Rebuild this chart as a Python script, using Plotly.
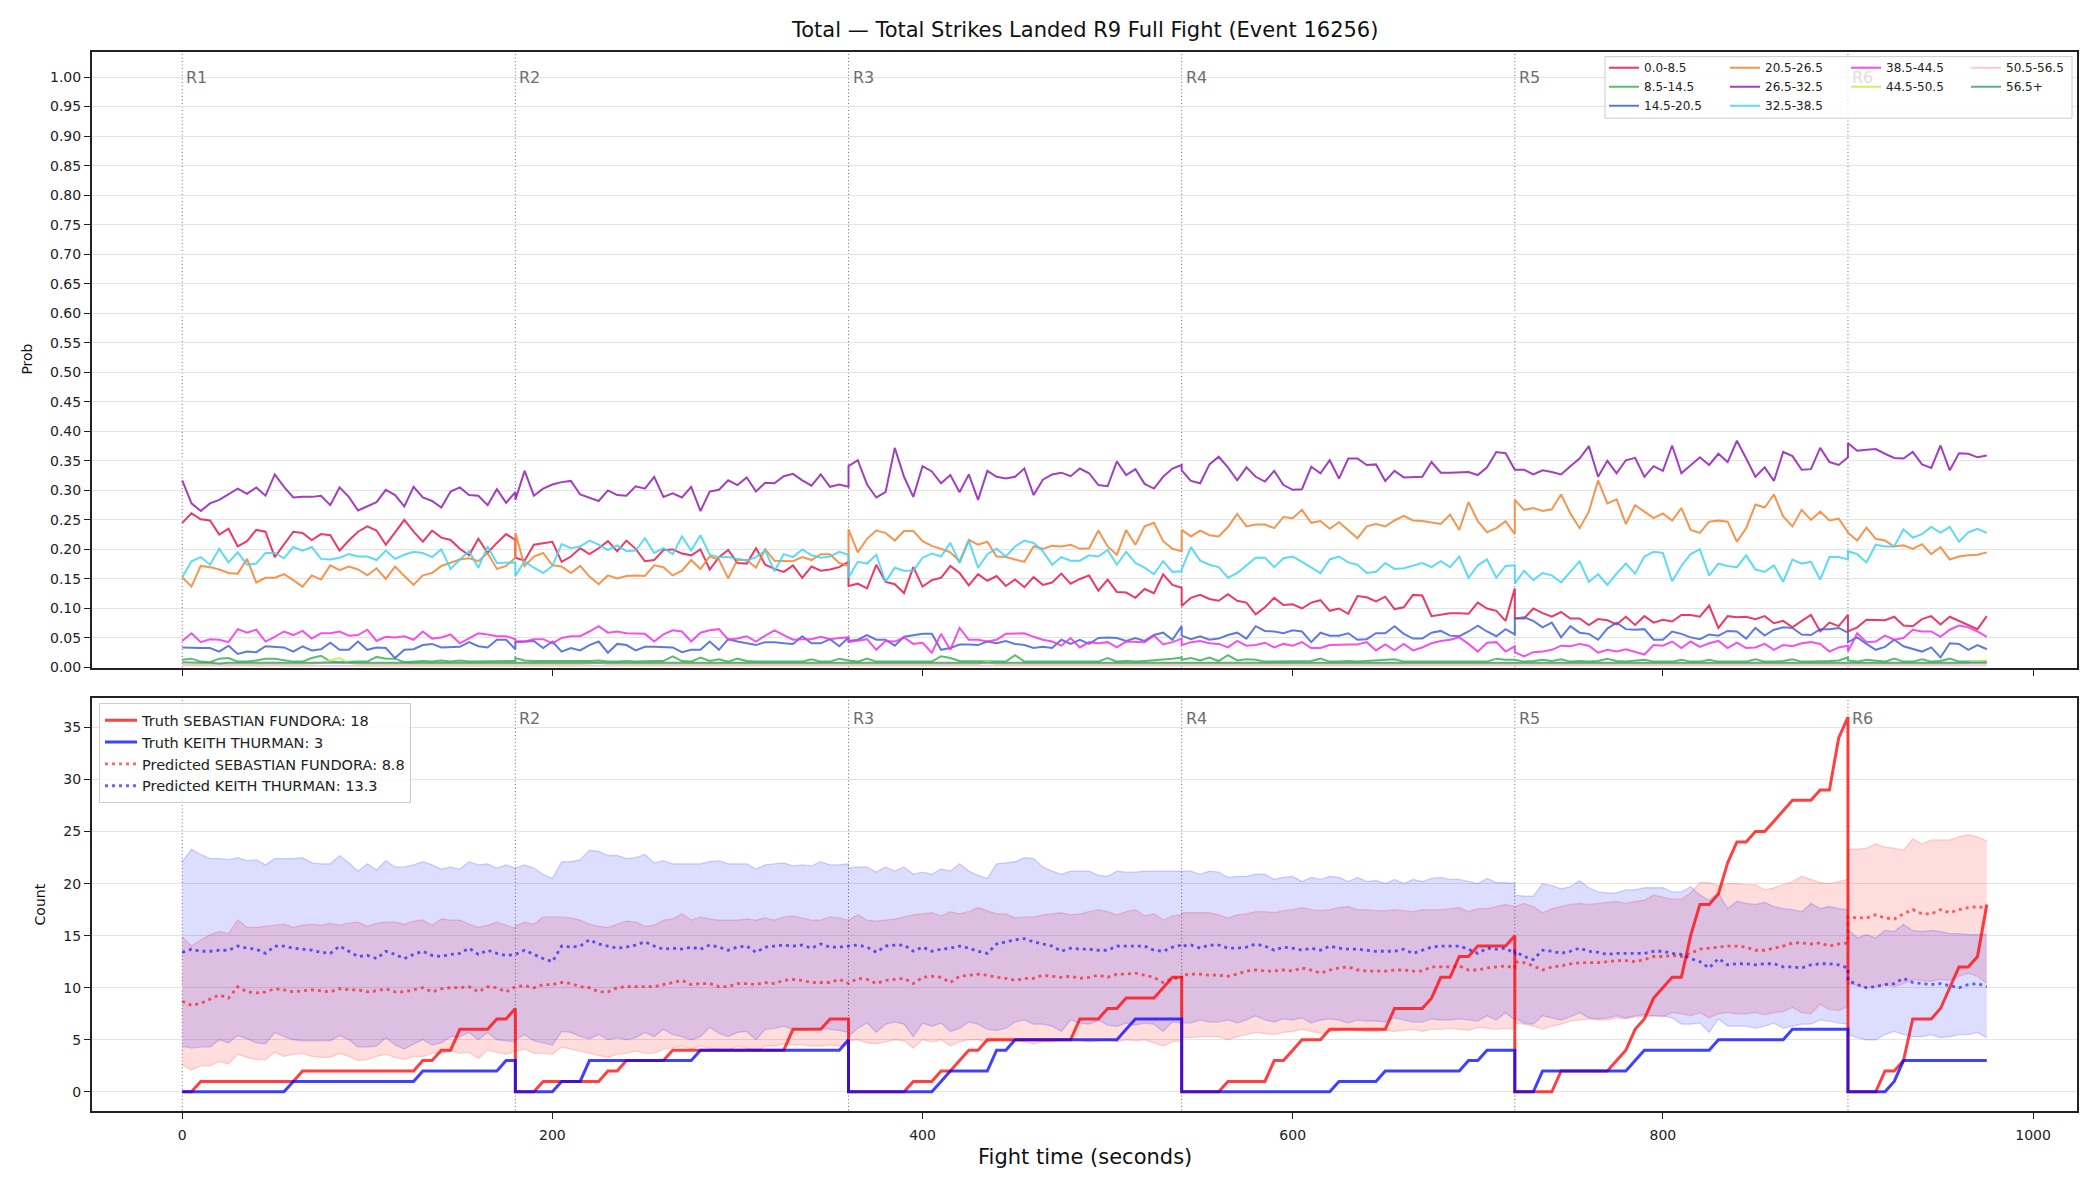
import plotly.graph_objects as go

W, H = 2100, 1200
ROUND_STARTS = [0, 180, 360, 540, 720, 900]
ROUND_POINTS = [37, 37, 37, 37, 37, 16]
STEP = 5
ROUND_LABELS = ["R1", "R2", "R3", "R4", "R5", "R6"]
X_TICKS = [0, 200, 400, 600, 800, 1000]

BIN_LABELS = ["0.0-8.5", "8.5-14.5", "14.5-20.5", "20.5-26.5", "26.5-32.5",
              "32.5-38.5", "38.5-44.5", "44.5-50.5", "50.5-56.5", "56.5+"]
BIN_COLORS = ["#e6194b", "#3cb44b", "#4363d8", "#f58231", "#911eb4",
              "#42d4f4", "#f032e6", "#bfef45", "#fabed4", "#469990"]

# ---- top panel: probability per bin, one list per round ----
P_0_8 = [
    [0.245,0.261,0.251,0.249,0.225,0.235,0.205,0.214,0.233,0.230,0.187,0.208,0.230,0.228,0.216,0.226,0.224,0.198,0.215,0.230,0.239,0.232,0.208,0.229,0.250,0.230,0.213,0.232,0.220,0.216,0.201,0.190,0.218,0.194,0.211,0.226,0.216],
    [0.186,0.181,0.208,0.211,0.213,0.179,0.188,0.202,0.192,0.202,0.214,0.197,0.215,0.201,0.180,0.182,0.199,0.200,0.193,0.190,0.200,0.166,0.187,0.199,0.177,0.176,0.202,0.174,0.167,0.162,0.173,0.152,0.171,0.164,0.166,0.170,0.179],
    [0.138,0.142,0.134,0.174,0.145,0.141,0.126,0.170,0.137,0.148,0.152,0.172,0.160,0.139,0.158,0.147,0.155,0.138,0.149,0.136,0.153,0.140,0.144,0.159,0.142,0.150,0.156,0.130,0.149,0.128,0.127,0.118,0.133,0.126,0.158,0.140,0.135],
    [0.104,0.118,0.123,0.116,0.113,0.124,0.113,0.110,0.090,0.102,0.118,0.106,0.107,0.100,0.110,0.114,0.096,0.100,0.091,0.121,0.119,0.112,0.120,0.099,0.102,0.123,0.122,0.087,0.090,0.092,0.092,0.091,0.110,0.100,0.096,0.079,0.134],
    [0.083,0.083,0.100,0.092,0.086,0.094,0.083,0.083,0.072,0.082,0.080,0.073,0.086,0.072,0.087,0.076,0.081,0.078,0.089,0.089,0.086,0.105,0.067,0.087,0.085,0.086,0.082,0.087,0.075,0.079,0.068,0.079,0.089,0.061,0.076,0.070,0.089],
    [0.061,0.068,0.081,0.081,0.080,0.086,0.071,0.070,0.082,0.087,0.073,0.086,0.079,0.073,0.065,0.087],
]
P_8_14 = [
    [0.013,0.015,0.010,0.009,0.015,0.016,0.010,0.010,0.012,0.015,0.015,0.012,0.010,0.010,0.016,0.020,0.010,0.009,0.010,0.010,0.010,0.018,0.015,0.015,0.009,0.010,0.011,0.010,0.012,0.010,0.012,0.010,0.010,0.010,0.010,0.011,0.011],
    [0.016,0.012,0.011,0.011,0.011,0.011,0.010,0.010,0.011,0.012,0.010,0.010,0.011,0.010,0.011,0.011,0.011,0.019,0.011,0.010,0.017,0.011,0.014,0.010,0.015,0.011,0.010,0.010,0.011,0.010,0.011,0.010,0.014,0.010,0.010,0.015,0.012],
    [0.012,0.010,0.015,0.010,0.010,0.010,0.011,0.010,0.010,0.010,0.019,0.016,0.011,0.011,0.010,0.010,0.010,0.010,0.021,0.010,0.010,0.010,0.010,0.011,0.010,0.010,0.011,0.010,0.016,0.010,0.011,0.010,0.011,0.012,0.014,0.015,0.017],
    [0.013,0.016,0.012,0.017,0.011,0.021,0.012,0.014,0.013,0.010,0.010,0.010,0.010,0.010,0.011,0.015,0.010,0.010,0.011,0.010,0.011,0.012,0.012,0.014,0.010,0.010,0.010,0.011,0.010,0.010,0.010,0.010,0.010,0.010,0.015,0.013,0.013],
    [0.013,0.010,0.011,0.013,0.011,0.014,0.010,0.011,0.010,0.011,0.015,0.011,0.010,0.011,0.013,0.010,0.010,0.010,0.013,0.010,0.010,0.013,0.010,0.010,0.011,0.010,0.014,0.010,0.010,0.011,0.014,0.010,0.010,0.010,0.011,0.012,0.017],
    [0.012,0.010,0.013,0.011,0.010,0.015,0.010,0.010,0.014,0.010,0.011,0.015,0.010,0.010,0.010,0.010],
]
P_14_20 = [
    [0.034,0.033,0.033,0.033,0.027,0.037,0.023,0.027,0.026,0.036,0.035,0.034,0.027,0.036,0.029,0.031,0.042,0.030,0.030,0.044,0.030,0.034,0.033,0.016,0.030,0.031,0.038,0.040,0.034,0.035,0.035,0.043,0.036,0.034,0.047,0.047,0.031],
    [0.043,0.044,0.045,0.033,0.044,0.027,0.033,0.029,0.038,0.044,0.025,0.040,0.038,0.029,0.035,0.035,0.035,0.034,0.026,0.030,0.030,0.044,0.030,0.048,0.044,0.041,0.038,0.043,0.043,0.041,0.040,0.053,0.041,0.041,0.048,0.036,0.051],
    [0.045,0.047,0.055,0.047,0.047,0.037,0.052,0.055,0.057,0.057,0.030,0.033,0.039,0.039,0.038,0.044,0.041,0.045,0.040,0.038,0.033,0.035,0.033,0.047,0.040,0.047,0.040,0.050,0.051,0.050,0.045,0.050,0.045,0.055,0.059,0.047,0.070],
    [0.054,0.048,0.053,0.047,0.049,0.055,0.059,0.049,0.070,0.062,0.061,0.058,0.063,0.061,0.043,0.059,0.054,0.054,0.058,0.047,0.048,0.058,0.058,0.070,0.057,0.049,0.049,0.059,0.062,0.054,0.053,0.061,0.071,0.061,0.053,0.065,0.056],
    [0.083,0.085,0.079,0.068,0.076,0.051,0.070,0.059,0.057,0.047,0.066,0.076,0.065,0.064,0.065,0.047,0.047,0.061,0.057,0.051,0.048,0.056,0.054,0.062,0.061,0.049,0.067,0.054,0.064,0.068,0.067,0.056,0.055,0.065,0.065,0.067,0.059],
    [0.043,0.051,0.040,0.030,0.035,0.047,0.036,0.031,0.027,0.034,0.017,0.041,0.040,0.030,0.038,0.031],
]
P_20_26 = [
    [0.153,0.137,0.172,0.170,0.166,0.160,0.159,0.184,0.144,0.152,0.152,0.158,0.148,0.137,0.156,0.149,0.173,0.165,0.171,0.166,0.156,0.168,0.150,0.171,0.155,0.140,0.156,0.160,0.172,0.177,0.183,0.185,0.180,0.194,0.167,0.172,0.186],
    [0.228,0.172,0.188,0.194,0.173,0.171,0.160,0.172,0.154,0.141,0.156,0.151,0.155,0.156,0.155,0.173,0.170,0.156,0.164,0.182,0.167,0.188,0.183,0.151,0.183,0.182,0.169,0.200,0.181,0.180,0.180,0.187,0.182,0.192,0.192,0.177,0.172],
    [0.234,0.195,0.218,0.232,0.228,0.215,0.231,0.231,0.214,0.206,0.201,0.195,0.180,0.216,0.208,0.213,0.188,0.187,0.183,0.179,0.205,0.201,0.206,0.205,0.208,0.201,0.202,0.232,0.205,0.191,0.233,0.208,0.239,0.245,0.214,0.201,0.197],
    [0.233,0.222,0.232,0.224,0.222,0.238,0.260,0.239,0.242,0.242,0.236,0.255,0.253,0.267,0.245,0.248,0.235,0.246,0.232,0.219,0.239,0.243,0.239,0.249,0.257,0.249,0.248,0.245,0.243,0.259,0.233,0.280,0.248,0.229,0.236,0.248,0.226],
    [0.284,0.267,0.270,0.265,0.268,0.293,0.261,0.236,0.264,0.317,0.278,0.285,0.243,0.275,0.264,0.253,0.261,0.249,0.270,0.233,0.228,0.247,0.249,0.247,0.213,0.236,0.276,0.271,0.293,0.256,0.239,0.267,0.250,0.264,0.249,0.252,0.229],
    [0.228,0.215,0.237,0.218,0.215,0.205,0.207,0.201,0.209,0.192,0.204,0.183,0.188,0.190,0.191,0.195],
]
P_26_32 = [
    [0.317,0.278,0.265,0.278,0.284,0.294,0.303,0.294,0.305,0.291,0.327,0.306,0.288,0.289,0.289,0.291,0.275,0.305,0.289,0.266,0.273,0.280,0.301,0.292,0.273,0.306,0.288,0.282,0.271,0.298,0.305,0.292,0.291,0.275,0.302,0.279,0.297],
    [0.284,0.333,0.291,0.303,0.310,0.314,0.316,0.293,0.288,0.282,0.300,0.292,0.291,0.307,0.303,0.323,0.289,0.295,0.288,0.306,0.265,0.298,0.301,0.317,0.309,0.322,0.298,0.313,0.312,0.324,0.328,0.317,0.308,0.327,0.306,0.310,0.306],
    [0.341,0.351,0.310,0.288,0.297,0.372,0.323,0.289,0.341,0.332,0.312,0.326,0.297,0.327,0.284,0.333,0.323,0.320,0.323,0.337,0.292,0.318,0.327,0.330,0.324,0.337,0.329,0.309,0.307,0.349,0.326,0.336,0.311,0.303,0.323,0.337,0.343],
    [0.334,0.316,0.312,0.344,0.357,0.339,0.317,0.339,0.323,0.315,0.333,0.309,0.301,0.302,0.340,0.329,0.351,0.320,0.354,0.354,0.343,0.344,0.316,0.333,0.322,0.323,0.323,0.348,0.330,0.330,0.330,0.331,0.326,0.339,0.365,0.363,0.335],
    [0.335,0.335,0.327,0.334,0.331,0.327,0.341,0.354,0.375,0.323,0.350,0.329,0.351,0.355,0.323,0.341,0.333,0.376,0.329,0.343,0.356,0.343,0.362,0.348,0.384,0.354,0.323,0.339,0.316,0.365,0.358,0.335,0.336,0.372,0.348,0.343,0.356],
    [0.380,0.367,0.369,0.370,0.362,0.355,0.354,0.365,0.344,0.338,0.376,0.334,0.363,0.362,0.356,0.359],
]
P_32_38 = [
    [0.153,0.180,0.187,0.174,0.201,0.178,0.195,0.174,0.176,0.194,0.194,0.185,0.204,0.198,0.204,0.184,0.183,0.186,0.192,0.188,0.188,0.182,0.198,0.184,0.191,0.196,0.194,0.187,0.200,0.167,0.183,0.197,0.169,0.205,0.177,0.178,0.178],
    [0.155,0.180,0.169,0.160,0.172,0.209,0.202,0.205,0.215,0.208,0.199,0.207,0.197,0.198,0.219,0.194,0.202,0.192,0.222,0.198,0.224,0.191,0.187,0.187,0.184,0.181,0.187,0.198,0.163,0.192,0.187,0.200,0.190,0.186,0.188,0.196,0.191],
    [0.152,0.179,0.176,0.191,0.145,0.169,0.164,0.164,0.186,0.193,0.188,0.211,0.177,0.215,0.169,0.192,0.201,0.188,0.205,0.215,0.211,0.197,0.174,0.187,0.181,0.181,0.190,0.188,0.199,0.174,0.196,0.177,0.169,0.158,0.180,0.162,0.163],
    [0.166,0.204,0.181,0.174,0.170,0.152,0.160,0.173,0.186,0.186,0.170,0.185,0.188,0.179,0.170,0.160,0.183,0.188,0.178,0.174,0.160,0.162,0.177,0.167,0.168,0.173,0.177,0.170,0.180,0.170,0.188,0.152,0.173,0.183,0.152,0.172,0.173],
    [0.142,0.164,0.148,0.160,0.156,0.144,0.162,0.180,0.145,0.158,0.140,0.159,0.176,0.159,0.188,0.196,0.194,0.146,0.172,0.192,0.200,0.156,0.176,0.172,0.170,0.190,0.166,0.162,0.173,0.145,0.183,0.176,0.179,0.149,0.187,0.187,0.183],
    [0.197,0.192,0.178,0.208,0.205,0.205,0.234,0.220,0.226,0.238,0.228,0.238,0.213,0.229,0.235,0.228],
]
P_38_44 = [
    [0.045,0.058,0.043,0.048,0.047,0.043,0.065,0.059,0.064,0.044,0.052,0.061,0.055,0.062,0.049,0.058,0.058,0.061,0.054,0.055,0.064,0.045,0.052,0.051,0.053,0.047,0.061,0.049,0.051,0.056,0.041,0.050,0.058,0.056,0.053,0.053,0.048],
    [0.045,0.044,0.048,0.048,0.041,0.050,0.053,0.053,0.061,0.070,0.059,0.061,0.058,0.057,0.057,0.044,0.056,0.063,0.061,0.044,0.059,0.063,0.065,0.047,0.049,0.053,0.044,0.054,0.063,0.055,0.047,0.048,0.048,0.052,0.048,0.050,0.051],
    [0.043,0.045,0.048,0.030,0.045,0.044,0.051,0.040,0.042,0.025,0.057,0.030,0.067,0.047,0.047,0.044,0.047,0.057,0.058,0.058,0.052,0.047,0.044,0.037,0.050,0.034,0.043,0.041,0.043,0.034,0.044,0.043,0.043,0.054,0.039,0.043,0.049],
    [0.038,0.043,0.045,0.041,0.040,0.034,0.045,0.037,0.038,0.042,0.034,0.040,0.037,0.043,0.033,0.033,0.038,0.039,0.039,0.039,0.043,0.029,0.039,0.029,0.040,0.029,0.034,0.041,0.045,0.047,0.051,0.040,0.027,0.042,0.043,0.027,0.036],
    [0.026,0.019,0.026,0.027,0.030,0.037,0.036,0.040,0.037,0.025,0.030,0.027,0.031,0.027,0.022,0.038,0.037,0.044,0.033,0.044,0.035,0.041,0.045,0.033,0.042,0.033,0.034,0.040,0.030,0.038,0.036,0.041,0.043,0.040,0.027,0.034,0.037],
    [0.027,0.058,0.043,0.044,0.054,0.047,0.050,0.064,0.061,0.061,0.052,0.064,0.071,0.068,0.061,0.052],
]
P_44_50 = [
    [0.005,0.005,0.006,0.005,0.006,0.006,0.005,0.006,0.006,0.005,0.006,0.006,0.006,0.006,0.007,0.008,0.012,0.016,0.008,0.006,0.006,0.006,0.005,0.006,0.006,0.006,0.005,0.006,0.006,0.006,0.005,0.006,0.006,0.006,0.006,0.005,0.006],
    [0.006,0.006,0.005,0.006,0.006,0.006,0.006,0.006,0.007,0.008,0.006,0.006,0.005,0.006,0.006,0.006,0.006,0.005,0.006,0.006,0.006,0.006,0.006,0.005,0.006,0.006,0.006,0.006,0.005,0.006,0.006,0.006,0.006,0.005,0.006,0.006,0.006],
    [0.006,0.006,0.005,0.006,0.006,0.006,0.006,0.005,0.006,0.006,0.006,0.006,0.006,0.006,0.006,0.010,0.006,0.006,0.005,0.006,0.006,0.006,0.006,0.006,0.005,0.006,0.006,0.006,0.006,0.006,0.005,0.006,0.006,0.006,0.006,0.006,0.006],
    [0.006,0.006,0.006,0.005,0.006,0.006,0.006,0.006,0.006,0.005,0.006,0.006,0.006,0.006,0.006,0.006,0.005,0.006,0.006,0.006,0.006,0.006,0.006,0.005,0.006,0.006,0.006,0.006,0.006,0.006,0.005,0.006,0.006,0.006,0.006,0.006,0.006],
    [0.006,0.005,0.006,0.006,0.006,0.006,0.005,0.006,0.006,0.006,0.006,0.006,0.005,0.006,0.006,0.006,0.006,0.006,0.006,0.005,0.006,0.006,0.006,0.006,0.006,0.005,0.006,0.006,0.006,0.006,0.006,0.006,0.005,0.006,0.006,0.006,0.006],
    [0.006,0.006,0.006,0.006,0.006,0.005,0.006,0.006,0.006,0.006,0.006,0.006,0.007,0.008,0.011,0.012],
]
P_50_56 = [
    [0.004,0.003,0.003,0.004,0.003,0.003,0.004,0.003,0.003,0.003,0.004,0.003,0.003,0.003,0.004,0.003,0.003,0.003,0.003,0.004,0.003,0.003,0.003,0.003,0.004,0.003,0.003,0.003,0.003,0.003,0.004,0.003,0.003,0.003,0.003,0.003,0.003],
    [0.003,0.003,0.004,0.003,0.003,0.003,0.003,0.004,0.003,0.003,0.003,0.003,0.004,0.003,0.003,0.003,0.003,0.003,0.004,0.003,0.003,0.003,0.003,0.004,0.003,0.003,0.003,0.003,0.003,0.004,0.003,0.003,0.003,0.003,0.004,0.003,0.003],
    [0.003,0.004,0.003,0.003,0.003,0.003,0.004,0.003,0.003,0.003,0.003,0.004,0.003,0.003,0.003,0.003,0.003,0.004,0.003,0.003,0.003,0.003,0.004,0.003,0.003,0.003,0.003,0.003,0.004,0.003,0.003,0.003,0.003,0.004,0.003,0.003,0.003],
    [0.003,0.003,0.003,0.004,0.003,0.003,0.003,0.003,0.004,0.003,0.003,0.003,0.003,0.003,0.004,0.003,0.003,0.003,0.003,0.004,0.003,0.003,0.003,0.003,0.003,0.004,0.003,0.003,0.003,0.003,0.004,0.003,0.003,0.003,0.003,0.003,0.004],
    [0.003,0.003,0.004,0.003,0.003,0.003,0.003,0.003,0.004,0.003,0.003,0.003,0.004,0.003,0.003,0.003,0.003,0.004,0.003,0.003,0.003,0.003,0.003,0.004,0.003,0.003,0.003,0.004,0.003,0.003,0.003,0.003,0.003,0.004,0.003,0.003,0.003],
    [0.003,0.004,0.003,0.003,0.003,0.003,0.004,0.003,0.003,0.003,0.004,0.003,0.003,0.003,0.003,0.004],
]
P_56_UP = [
    [0.009,0.008,0.008,0.008,0.007,0.008,0.008,0.008,0.008,0.007,0.008,0.008,0.008,0.008,0.008,0.008,0.007,0.008,0.008,0.008,0.008,0.008,0.008,0.007,0.008,0.008,0.008,0.008,0.008,0.007,0.008,0.008,0.008,0.008,0.008,0.008,0.008],
    [0.008,0.008,0.008,0.007,0.008,0.008,0.008,0.008,0.008,0.008,0.007,0.008,0.008,0.008,0.008,0.008,0.008,0.007,0.008,0.008,0.008,0.008,0.008,0.008,0.007,0.008,0.008,0.008,0.008,0.008,0.008,0.007,0.008,0.008,0.008,0.008,0.008],
    [0.008,0.008,0.007,0.008,0.008,0.008,0.008,0.008,0.007,0.008,0.008,0.008,0.008,0.008,0.008,0.007,0.008,0.008,0.008,0.008,0.008,0.008,0.007,0.008,0.008,0.008,0.008,0.008,0.008,0.007,0.008,0.008,0.008,0.008,0.008,0.008,0.008],
    [0.008,0.008,0.008,0.008,0.007,0.008,0.008,0.008,0.008,0.008,0.008,0.007,0.008,0.008,0.008,0.008,0.008,0.008,0.007,0.008,0.008,0.008,0.008,0.008,0.008,0.007,0.008,0.008,0.008,0.008,0.008,0.008,0.007,0.008,0.008,0.008,0.008],
    [0.008,0.008,0.008,0.008,0.008,0.007,0.008,0.008,0.008,0.008,0.008,0.008,0.007,0.008,0.008,0.008,0.008,0.008,0.008,0.007,0.008,0.008,0.008,0.008,0.008,0.008,0.007,0.008,0.008,0.008,0.008,0.008,0.008,0.007,0.008,0.008,0.008],
    [0.008,0.008,0.008,0.007,0.008,0.008,0.008,0.008,0.008,0.008,0.007,0.008,0.008,0.008,0.008,0.008],
]
PROB_SERIES = [P_0_8, P_8_14, P_14_20, P_20_26, P_26_32, P_32_38, P_38_44, P_44_50, P_50_56, P_56_UP]

# ---- bottom panel: counts per round ----
FIGHTER_A = "SEBASTIAN FUNDORA"
FIGHTER_B = "KEITH THURMAN"
TRUTH_A = [
    [0,0,1,1,1,1,1,1,1,1,1,1,1,2,2,2,2,2,2,2,2,2,2,2,2,2,3,3,4,4,6,6,6,6,7,7,8],
    [0,0,0,1,1,1,1,1,1,1,2,2,3,3,3,3,3,4,4,4,4,4,4,4,4,4,4,4,4,4,6,6,6,6,7,7,7],
    [0,0,0,0,0,0,0,1,1,1,2,2,3,4,4,5,5,5,5,5,5,5,5,5,5,7,7,7,8,8,9,9,9,9,10,11,11],
    [0,0,0,0,0,1,1,1,1,1,3,3,4,5,5,5,6,6,6,6,6,6,6,8,8,8,8,9,11,11,13,13,14,14,14,14,15],
    [0,0,0,0,0,2,2,2,2,2,2,3,4,6,7,9,10,11,11,15,18,18,19,22,24,24,25,25,26,27,28,28,28,29,29,34,36],
    [0,0,0,0,2,2,3,7,7,7,8,10,12,12,13,18],
]
TRUTH_B = [
    [0,0,0,0,0,0,0,0,0,0,0,0,1,1,1,1,1,1,1,1,1,1,1,1,1,1,2,2,2,2,2,2,2,2,2,3,3],
    [0,0,0,0,0,1,1,1,3,3,3,3,3,3,3,3,3,3,3,3,4,4,4,4,4,4,4,4,4,4,4,4,4,4,4,4,5],
    [0,0,0,0,0,0,0,0,0,0,1,2,2,2,2,2,4,4,5,5,5,5,5,5,5,5,5,5,5,5,6,7,7,7,7,7,7],
    [0,0,0,0,0,0,0,0,0,0,0,0,0,0,0,0,0,1,1,1,1,1,2,2,2,2,2,2,2,2,2,3,3,4,4,4,4],
    [0,0,0,2,2,2,2,2,2,2,2,2,2,3,4,4,4,4,4,4,4,4,5,5,5,5,5,5,5,5,6,6,6,6,6,6,6],
    [0,0,0,0,0,1,3,3,3,3,3,3,3,3,3,3],
]
PRED_A = [
    [8.7,8.3,8.5,8.9,9.3,9.0,10.1,9.6,9.5,9.6,9.9,9.8,9.6,9.7,9.8,9.7,9.6,9.9,9.8,9.8,9.6,9.7,9.9,9.6,9.6,9.8,10.0,9.6,9.9,10.0,10.0,10.1,9.6,10.1,10.0,9.6,10.1],
    [10.1,10.2,10.0,10.3,10.3,10.5,10.4,10.1,10.0,9.6,9.6,10.0,10.1,10.1,10.1,10.1,10.3,10.5,10.7,10.3,10.4,10.4,10.1,10.1,10.4,10.4,10.3,10.5,10.4,10.7,10.8,10.7,10.5,10.5,10.5,10.8,10.4],
    [10.4,10.9,10.8,10.4,10.7,10.8,10.9,10.4,11.0,11.1,11.0,10.5,11.1,11.2,11.3,11.2,11.0,10.9,10.7,10.9,10.9,11.2,11.1,11.0,11.1,10.9,11.0,11.2,11.0,11.3,11.3,11.4,11.2,11.0,10.5,10.9,10.9],
    [11.2,11.3,11.3,11.2,11.2,11.1,11.3,11.6,11.7,11.6,11.6,11.7,11.6,11.9,11.7,11.4,11.7,11.9,12.0,11.7,11.6,11.6,11.6,11.7,11.7,11.6,11.6,12.0,12.0,12.0,12.1,11.7,11.7,11.9,12.0,12.1,11.9],
    [12.5,12.4,12.1,11.7,12.0,12.1,12.3,12.4,12.4,12.4,12.5,12.6,12.6,12.5,12.7,13.0,13.0,13.1,13.0,13.3,13.7,13.8,13.9,14.0,14.0,13.9,13.6,13.6,13.8,14.0,14.3,14.3,14.2,14.3,14.0,14.2,14.3],
    [16.8,16.7,16.7,17.0,16.7,16.6,17.1,17.5,17.1,17.1,17.5,17.2,17.5,17.7,17.8,17.6],
]
PRED_B = [
    [13.4,13.7,13.5,13.5,13.6,13.6,14.0,13.8,13.7,13.3,14.0,14.0,13.8,13.7,13.6,13.4,13.3,14.0,13.5,13.0,13.1,12.8,13.5,13.2,12.8,13.2,13.5,13.1,13.0,13.2,13.3,13.8,13.2,13.6,13.3,13.1,13.2],
    [13.2,13.6,13.2,12.8,12.5,14.0,13.9,14.0,14.6,14.2,14.0,13.8,13.9,14.1,14.4,14.0,13.7,13.8,13.7,13.9,13.7,14.1,13.9,13.6,13.9,14.0,13.4,13.9,14.0,14.1,14.0,14.1,13.8,14.2,13.9,13.9,14.0],
    [14.0,14.1,13.9,13.4,14.0,14.1,14.1,13.5,13.9,13.5,13.7,13.8,14.0,13.8,13.5,13.3,14.2,14.4,14.6,14.7,14.4,14.2,14.0,13.5,13.8,13.7,13.7,13.6,13.6,14.0,14.0,14.0,14.0,13.6,13.5,13.9,14.1],
    [14.0,14.1,13.8,14.1,14.1,13.8,13.8,13.9,14.2,14.0,13.6,13.9,13.8,13.6,13.8,13.6,14.0,13.8,13.7,13.7,13.6,13.5,13.5,13.5,13.7,13.3,13.6,13.9,14.0,14.0,14.0,13.7,13.3,13.8,13.7,13.8,13.3],
    [13.5,13.0,12.7,13.6,13.5,13.3,13.5,13.8,13.5,13.4,13.2,13.3,13.3,13.3,13.3,13.5,13.5,13.3,13.2,12.8,12.5,11.9,12.8,12.2,12.3,12.3,12.2,12.3,12.3,12.0,12.0,11.9,12.2,12.3,12.3,12.2,11.9],
    [10.7,10.3,10.0,10.1,10.3,10.4,10.9,10.5,10.4,10.3,10.4,10.2,10.0,10.3,10.4,10.1],
]
BAND_A_LO = [
    [2.6,2.1,2.5,2.5,2.9,2.7,3.6,3.3,3.1,3.1,3.8,3.4,3.6,3.7,3.4,3.3,3.3,3.7,3.4,3.0,3.1,3.4,3.6,3.3,3.1,3.4,3.4,3.7,3.7,3.9,3.7,3.8,3.2,4.0,3.8,3.6,3.9],
    [3.9,4.1,3.7,3.7,3.6,4.3,4.1,3.9,3.7,3.5,3.3,3.6,3.7,3.9,3.7,3.7,4.1,4.2,4.4,4.1,4.4,4.2,4.0,4.0,4.4,4.2,3.9,4.4,4.4,4.6,4.5,4.5,4.4,4.4,4.5,4.4,4.5],
    [4.9,5.0,4.7,4.6,4.8,5.0,4.9,4.2,5.0,4.8,5.0,4.4,4.8,5.0,5.0,4.8,5.0,5.0,4.9,4.8,4.6,4.8,4.8,5.0,5.1,5.0,4.8,4.9,5.0,4.8,5.0,4.9,5.0,4.7,4.4,4.8,4.9],
    [5.2,5.2,5.3,5.3,5.3,5.0,5.3,5.5,5.7,5.6,5.5,5.7,5.8,6.0,5.8,5.6,5.8,5.9,6.0,5.9,5.8,5.8,5.9,5.8,5.9,6.0,5.8,6.0,6.0,6.1,6.0,5.9,6.2,6.1,6.0,6.1,6.0],
    [6.6,6.5,6.3,6.0,6.3,6.5,6.8,6.9,7.0,6.9,6.9,7.1,7.0,7.2,7.2,7.3,7.2,7.6,7.5,7.3,7.6,7.1,7.5,7.6,7.5,7.5,7.6,7.4,7.6,7.7,8.1,7.6,7.5,8.4,7.9,7.8,8.2],
    [10.4,10.2,10.0,10.1,10.3,10.1,10.4,10.8,10.7,10.6,10.8,10.7,11.1,11.4,11.1,10.4],
]
BAND_A_HI = [
    [14.9,14.0,14.6,15.1,15.4,15.2,16.5,15.8,15.8,15.9,16.0,16.1,15.8,16.0,16.1,16.0,16.2,16.0,16.2,16.3,15.9,16.2,16.3,16.3,16.1,16.4,16.5,16.0,16.6,16.5,16.5,16.1,15.8,16.0,16.3,16.0,15.7],
    [15.9,16.3,16.1,16.8,16.8,16.8,16.7,16.5,16.1,15.9,15.8,16.1,16.4,16.3,15.9,16.0,16.5,16.6,17.1,16.5,16.8,16.6,16.5,16.5,16.5,16.6,16.5,16.7,16.5,16.8,16.9,16.7,16.5,16.5,16.8,16.7,16.5],
    [16.5,17.0,16.5,16.4,16.5,16.6,16.8,17.0,17.1,17.2,16.9,17.3,17.1,17.3,17.7,17.4,17.1,17.1,16.7,16.8,16.8,17.0,17.1,17.2,17.0,17.1,17.3,17.5,17.3,17.0,17.3,17.5,16.9,17.1,16.5,16.9,17.0],
    [17.2,17.2,17.2,17.2,17.0,16.7,17.0,17.1,17.3,17.3,17.2,17.4,17.5,17.7,17.5,17.4,17.5,17.7,17.8,17.5,17.5,17.4,17.4,17.5,17.4,17.3,17.5,17.5,17.5,17.6,17.7,17.3,17.6,17.6,17.8,18.0,17.8],
    [17.8,18.1,17.8,17.2,17.6,17.8,18.0,18.1,18.0,18.1,18.2,18.3,18.1,18.3,18.4,18.9,18.7,18.5,18.5,19.1,20.1,20.1,19.8,20.0,20.0,19.9,19.9,19.4,19.6,19.9,20.2,20.7,20.4,20.1,20.0,20.2,20.4],
    [23.3,23.3,23.4,23.8,23.5,23.4,23.2,24.3,23.8,24.2,24.2,24.2,24.5,24.7,24.5,24.1],
]
BAND_B_LO = [
    [4.4,4.2,4.3,4.3,5.0,4.7,5.4,5.1,4.7,4.6,5.7,5.3,5.0,4.9,4.9,4.9,4.9,5.4,5.0,4.3,4.3,4.4,5.2,4.5,4.1,4.6,5.0,4.5,4.7,5.3,5.3,5.7,5.0,5.7,5.0,4.9,4.8],
    [5.0,5.5,4.9,4.7,4.5,5.8,5.7,5.3,5.1,5.5,5.0,5.2,5.0,5.2,5.7,5.3,6.0,5.5,5.3,5.0,5.3,6.2,5.6,5.3,5.7,5.8,5.0,6.0,6.1,6.3,6.0,6.0,6.1,6.1,6.0,5.9,5.7],
    [5.3,6.1,6.6,5.7,6.5,6.7,6.5,5.3,6.6,6.3,6.6,5.8,6.1,6.7,6.5,6.0,5.9,6.1,6.7,6.9,6.5,6.5,6.3,5.8,6.9,6.6,6.5,6.9,6.4,6.3,6.6,6.4,6.6,6.5,5.8,6.7,6.6],
    [6.6,6.6,6.9,6.7,6.7,6.9,6.6,6.9,7.3,6.9,6.7,7.0,6.9,7.1,6.6,6.9,7.0,6.9,6.6,6.9,6.8,6.8,6.7,7.1,6.9,6.7,6.7,7.0,6.9,6.9,7.0,6.9,6.8,7.3,6.9,7.6,6.9],
    [7.1,6.6,6.5,7.3,7.1,6.9,7.2,7.6,7.1,7.0,7.1,7.3,7.1,7.3,7.4,7.3,7.3,7.1,6.5,6.5,6.6,5.7,7.0,6.3,6.3,6.3,6.1,6.3,6.6,6.1,6.3,6.5,6.5,6.9,6.8,6.6,6.5],
    [5.5,5.2,5.0,5.0,5.5,5.8,5.5,5.3,5.3,5.5,5.2,5.3,5.5,5.5,5.7,5.2],
]
BAND_B_HI = [
    [22.1,23.3,22.8,22.4,22.4,22.3,22.5,22.2,22.3,21.8,22.4,22.4,22.4,22.5,22.0,21.9,21.9,22.7,22.0,21.2,21.9,21.3,22.2,21.6,21.6,21.8,22.1,21.8,21.4,21.6,21.4,22.1,21.8,21.9,21.5,21.8,21.5],
    [21.5,21.8,21.5,20.9,20.5,22.1,22.1,22.3,23.2,23.1,22.7,22.7,22.4,22.5,22.8,22.0,22.2,21.9,21.9,21.9,21.9,22.1,22.2,21.9,21.9,21.9,21.4,21.8,21.9,22.0,21.7,21.8,21.7,22.1,21.8,21.8,21.9],
    [21.5,21.6,21.6,21.1,21.6,21.2,21.6,20.9,21.1,20.9,21.4,21.2,21.9,21.2,20.8,20.5,21.9,22.0,22.1,22.5,22.4,21.6,21.2,20.9,21.2,21.2,21.2,20.8,20.7,21.2,21.1,21.1,21.2,21.2,21.2,21.2,21.2],
    [21.2,21.2,20.9,21.2,21.1,20.6,20.7,20.7,20.9,20.9,20.4,20.6,20.7,20.2,20.6,20.4,20.7,20.6,20.2,20.6,20.2,20.3,20.0,20.4,20.0,20.4,20.2,20.5,20.6,20.4,20.4,20.2,20.0,20.5,20.1,20.1,20.0],
    [18.9,18.8,18.8,20.0,19.8,19.5,19.7,20.3,19.6,19.2,19.1,19.1,19.4,19.4,19.6,19.6,19.6,19.2,19.2,19.7,18.9,18.4,19.1,17.6,18.3,18.1,18.0,18.2,17.8,17.6,17.5,17.3,18.1,17.6,17.8,17.6,17.5],
    [15.6,14.8,15.1,14.8,15.5,15.4,16.1,15.5,15.4,15.5,15.4,15.2,15.2,15.1,15.1,15.1],
]
FINAL_TRUTH = {"A": 18, "B": 3}
PRED_SUMMARY = {"A": 8.8, "B": 13.3}

# ---------------------------------------------------------------------------
def flat(rounds):
    for r, n in zip(rounds, ROUND_POINTS):
        assert len(r) == n, (len(r), n)
    return [v for r in rounds for v in r]

T = [s + STEP * k for s, n in zip(ROUND_STARTS, ROUND_POINTS) for k in range(n)]


def rgba(hexc, a):
    h = hexc.lstrip("#")
    return "rgba(%d,%d,%d,%s)" % (int(h[0:2], 16), int(h[2:4], 16), int(h[4:6], 16), a)


FONT = "DejaVu Sans"
INK = "#222222"
GRID = "#e4e4e4"

fig = go.Figure()

# top panel lines; legend split into 4 columns (matplotlib ncol=4 fill order)
col_of = [0, 0, 0, 1, 1, 1, 2, 2, 3, 3]
for i, (lab, colr, ser) in enumerate(zip(BIN_LABELS, BIN_COLORS, PROB_SERIES)):
    fig.add_trace(go.Scatter(
        x=T, y=flat(ser), mode="lines", name=lab,
        line=dict(color=rgba(colr, 0.85), width=2),
        xaxis="x", yaxis="y", legend="legend%d" % (2 + col_of[i]),
    ))

# bottom panel bands
RED, BLUE = "#ff0000", "#0000ff"
for lo, hi, c in [(BAND_A_LO, BAND_A_HI, RED), (BAND_B_LO, BAND_B_HI, BLUE)]:
    fig.add_trace(go.Scatter(x=T, y=flat(lo), mode="lines", line=dict(color=rgba(c, 0.16), width=1.3),
                             showlegend=False, xaxis="x2", yaxis="y2", hoverinfo="skip"))
    fig.add_trace(go.Scatter(x=T, y=flat(hi), mode="lines", line=dict(color=rgba(c, 0.16), width=1.3),
                             fill="tonexty", fillcolor=rgba(c, 0.135),
                             showlegend=False, xaxis="x2", yaxis="y2", hoverinfo="skip"))

fig.add_trace(go.Scatter(x=T, y=flat(TRUTH_A), mode="lines", name="Truth %s: %d" % (FIGHTER_A, FINAL_TRUTH["A"]),
                         line=dict(color=rgba(RED, 0.75), width=3), xaxis="x2", yaxis="y2", legend="legend"))
fig.add_trace(go.Scatter(x=T, y=flat(TRUTH_B), mode="lines", name="Truth %s: %d" % (FIGHTER_B, FINAL_TRUTH["B"]),
                         line=dict(color=rgba(BLUE, 0.75), width=3), xaxis="x2", yaxis="y2", legend="legend"))
fig.add_trace(go.Scatter(x=T, y=flat(PRED_A), mode="lines", name="Predicted %s: %.1f" % (FIGHTER_A, PRED_SUMMARY["A"]),
                         line=dict(color=rgba(RED, 0.6), width=2.8, dash="3px,4px"), xaxis="x2", yaxis="y2", legend="legend"))
fig.add_trace(go.Scatter(x=T, y=flat(PRED_B), mode="lines", name="Predicted %s: %.1f" % (FIGHTER_B, PRED_SUMMARY["B"]),
                         line=dict(color=rgba(BLUE, 0.6), width=2.8, dash="3px,4px"), xaxis="x2", yaxis="y2", legend="legend"))

# geometry (pixels of the 2100x1200 canvas -> paper fractions)
LEFT, RIGHT = 92, 2077
TOP_T, TOP_B = 52, 672
BOT_T, BOT_B = 703, 1118
px = lambda x: x / W
py = lambda y: 1 - y / H
XR = [-48.75, 1023.75]

axis_common = dict(showline=True, mirror=True, linecolor=INK, linewidth=2, ticks="outside",
                   ticklen=6, tickwidth=1.3, tickcolor=INK, zeroline=False,
                   tickfont=dict(family=FONT, size=14, color=INK))

fig.update_layout(
    width=W, height=H, margin=dict(l=0, r=0, t=0, b=0),
    paper_bgcolor="white", plot_bgcolor="white",
    font=dict(family=FONT, color=INK),
    xaxis=dict(domain=[px(LEFT), px(RIGHT)], range=XR, anchor="y", tickvals=X_TICKS,
               showticklabels=False, showgrid=False, **axis_common),
    yaxis=dict(domain=[py(TOP_B), py(TOP_T)], range=[0, 1.043], anchor="x", tick0=0, dtick=0.05,
               tickformat=".2f", showgrid=True, gridcolor=GRID, gridwidth=1, **axis_common),
    xaxis2=dict(domain=[px(LEFT), px(RIGHT)], range=XR, anchor="y2", matches="x", tickvals=X_TICKS,
                showgrid=False, ticklabelstandoff=5, **axis_common),
    yaxis2=dict(domain=[py(BOT_B), py(BOT_T)], range=[-1.8, 37.8], anchor="x2", tick0=0, dtick=5,
                showgrid=True, gridcolor=GRID, gridwidth=1, **axis_common),
    legend=dict(x=px(99), y=py(708), xanchor="left", yanchor="top", orientation="v",
                traceorder="normal", itemwidth=32,
                bgcolor="rgba(255,255,255,0.8)", bordercolor="#cccccc", borderwidth=1,
                font=dict(family=FONT, size=14.5, color=INK), tracegroupgap=0),
)
leg_x = [1604, 1725, 1846, 1966]
for j, lx in enumerate(leg_x):
    fig.update_layout(**{"legend%d" % (2 + j): dict(
        x=px(lx), y=py(53.5), xanchor="left", yanchor="top", orientation="v",
        traceorder="normal", bgcolor="rgba(0,0,0,0)", borderwidth=0,
        font=dict(family=FONT, size=12, color=INK), tracegroupgap=0)})

shapes = []
for s in ROUND_STARTS:
    for xr, yr in [("x", "y domain"), ("x2", "y2 domain")]:
        shapes.append(dict(type="line", xref=xr, yref=yr, x0=s, x1=s, y0=0, y1=1, layer="below",
                           line=dict(color="rgba(60,60,60,0.75)", width=1, dash="1px,2.5px")))
# top legend frame (matplotlib-style box with ncol=4)
shapes.append(dict(type="rect", xref="paper", yref="paper", x0=px(1605), x1=px(2072), y0=py(119), y1=py(57),
                   fillcolor="rgba(255,255,255,0.8)", line=dict(color="#cccccc", width=1), layer="above"))
fig.update_layout(shapes=shapes)

ann = []
for s, lab in zip(ROUND_STARTS, ROUND_LABELS):
    ann.append(dict(x=s, xref="x", y=0.958, yref="y domain", text=lab, showarrow=False, xanchor="left",
                    yanchor="middle", xshift=2,
                    font=dict(family=FONT, size=16, color="#e0e0e0" if lab == "R6" else "#6e6e6e")))
    if lab != "R1":
        ann.append(dict(x=s, xref="x2", y=0.952, yref="y2 domain", text=lab, showarrow=False, xanchor="left",
                        yanchor="middle", xshift=2, font=dict(family=FONT, size=16, color="#6e6e6e")))
ann.append(dict(x=px((LEFT + RIGHT) / 2), y=py(30), xref="paper", yref="paper", showarrow=False,
                text="Total \u2014 Total Strikes Landed R9 Full Fight (Event 16256)",
                font=dict(family=FONT, size=21, color="#111111"), xanchor="center", yanchor="middle"))
ann.append(dict(x=px((LEFT + RIGHT) / 2), y=py(1165), xref="paper", yref="paper", showarrow=False,
                text="Fight time (seconds)", font=dict(family=FONT, size=21, color="#111111"),
                xanchor="center", yanchor="middle"))
ann.append(dict(x=px(27), y=py((TOP_T + TOP_B) / 2), xref="paper", yref="paper", showarrow=False,
                text="Prob", textangle=-90, font=dict(family=FONT, size=14, color="#111111"),
                xanchor="center", yanchor="middle"))
ann.append(dict(x=px(40), y=py((BOT_T + BOT_B) / 2), xref="paper", yref="paper", showarrow=False,
                text="Count", textangle=-90, font=dict(family=FONT, size=14, color="#111111"),
                xanchor="center", yanchor="middle"))
fig.update_layout(annotations=ann)

fig.write_html("out.html")
